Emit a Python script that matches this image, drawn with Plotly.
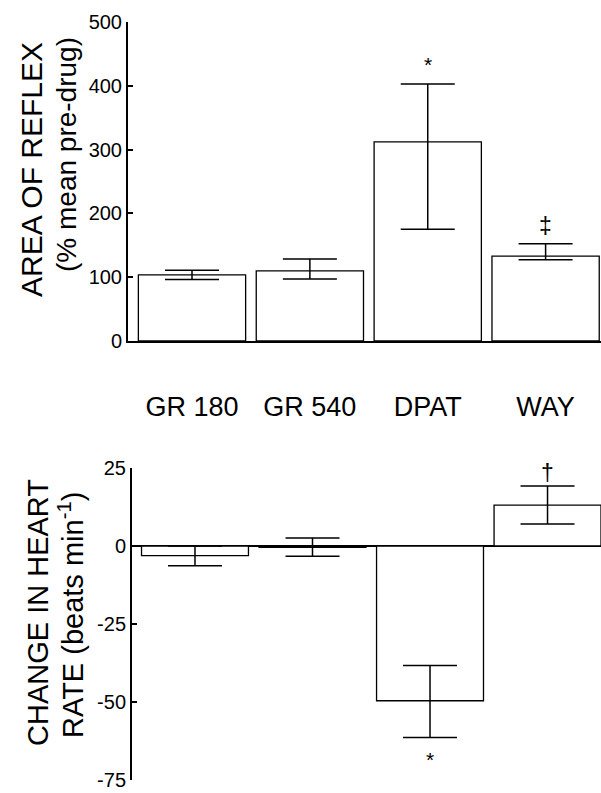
import plotly.graph_objects as go

# ---- data ----
categories = ["GR 180", "GR 540", "DPAT", "WAY"]

reflex_mean = [103.5, 110, 312, 133]
reflex_err_plus = [7.3, 18.5, 91, 19.5]
reflex_err_minus = [7.3, 13, 137, 5.5]
reflex_sig_labels = ["", "", "*", "‡"]
reflex_sig_y = [None, None, 433, 180]

hr_mean = [-3.1, -0.4, -49.6, 13.1]
hr_err_plus = [3.1, 3.0, 11.3, 6.1]
hr_err_minus = [3.2, 2.9, 11.8, 6.05]
hr_sig_labels = ["", "", "*", "†"]
hr_sig_y = [None, None, -68.3, 23.5]

reflex_ticks = [0, 100, 200, 300, 400, 500]
reflex_tick_labels = ["0", "100", "200", "300", "400", "500"]
hr_ticks = [-75, -50, -25, 0, 25]
hr_tick_labels = ["-75", "-50", "-25", "0", "25"]

FONT = "Liberation Sans, Arial, Helvetica, sans-serif"
W, H = 601, 793

fig = go.Figure()

bar_style = dict(marker=dict(color="white", line=dict(color="black", width=1.3)), width=0.91)
err_style = dict(type="data", symmetric=False, color="black", thickness=1.5, width=27)

fig.add_trace(go.Bar(x=categories, y=reflex_mean,
                     error_y=dict(array=reflex_err_plus, arrayminus=reflex_err_minus, **err_style),
                     xaxis="x", yaxis="y", **bar_style))
fig.add_trace(go.Bar(x=categories, y=hr_mean,
                     error_y=dict(array=hr_err_plus, arrayminus=hr_err_minus, **err_style),
                     xaxis="x2", yaxis="y2", **bar_style))

annotations = []
for c, t, yv in zip(categories, reflex_sig_labels, reflex_sig_y):
    if t:
        annotations.append(dict(x=c, y=yv, xref="x", yref="y", text=t, showarrow=False,
                                font=dict(family=FONT, size=21 if t == "*" else 23, color="black"),
                                xanchor="center", yanchor="middle"))
for c, t, yv in zip(categories, hr_sig_labels, hr_sig_y):
    if t:
        annotations.append(dict(x=c, y=yv, xref="x2", yref="y2", text=t, showarrow=False,
                                font=dict(family=FONT, size=21 if t == "*" else 23, color="black"),
                                xanchor="center", yanchor="middle"))

def title_ann(text, px, py, size):
    return dict(x=px / W, y=1 - py / H, xref="paper", yref="paper", text=text, showarrow=False,
                textangle=-90, xanchor="center", yanchor="middle",
                font=dict(family=FONT, size=size, color="black"))

annotations += [
    title_ann("AREA OF REFLEX", 31, 170, 30),
    title_ann("(% mean pre-drug)", 67, 155, 28),
    title_ann("CHANGE IN HEART", 38, 613, 29),
    title_ann("RATE (beats min<sup>-1</sup>)", 71, 615, 29),
]

yax_common = dict(showline=True, linecolor="black", linewidth=2, ticks="inside", ticklen=5,
                  tickwidth=2, tickcolor="black", showgrid=False, automargin=False,
                  tickfont=dict(family=FONT, size=20, color="black"))

fig.update_layout(
    template="none",
    width=W, height=H,
    margin=dict(l=0, r=0, t=0, b=0, pad=0),
    paper_bgcolor="white", plot_bgcolor="white",
    showlegend=False,
    xaxis=dict(domain=[128 / W, 1], range=[-0.543, 3.47], showline=True, linecolor="black",
               linewidth=2, ticks="", showgrid=False, anchor="y", automargin=False,
               tickfont=dict(family=FONT, size=27, color="black"), ticklabelstandoff=41),
    yaxis=dict(domain=[1 - 341 / H, 1 - 22 / H], range=[0, 500], tickvals=reflex_ticks,
               ticktext=reflex_tick_labels, zeroline=False, anchor="x", **yax_common),
    xaxis2=dict(domain=[132 / W, 1], range=[-0.536, 3.455], showline=False, ticks="",
                showticklabels=False, showgrid=False, zeroline=False, anchor="y2", automargin=False),
    yaxis2=dict(domain=[1 - 780 / H, 1 - 468 / H], range=[-75, 25], tickvals=hr_ticks,
                ticktext=hr_tick_labels, zeroline=True, zerolinecolor="black", zerolinewidth=2,
                anchor="x2", **yax_common),
    annotations=annotations,
)

fig.write_html("out.html", config={"displayModeBar": False},
               post_script="document.body.style.margin='0';document.body.style.overflow='hidden';")
